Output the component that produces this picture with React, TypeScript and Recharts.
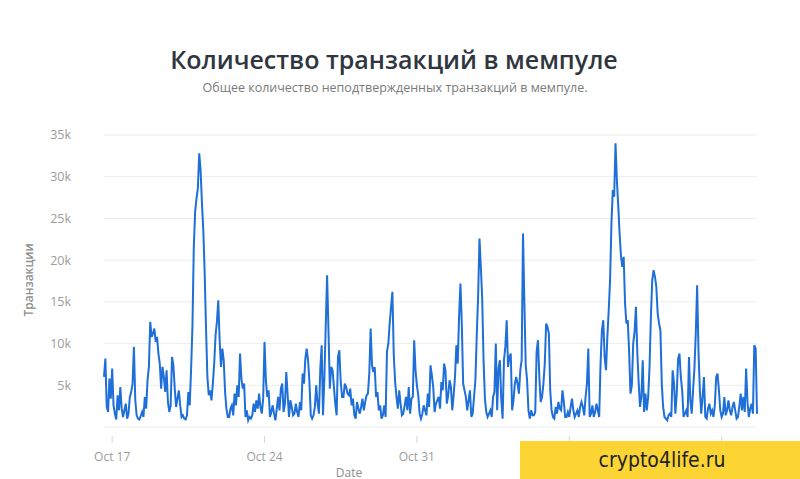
import { LineChart, Line, XAxis, YAxis, CartesianGrid } from "recharts";

// series starts Oct 16, 15:00 and is sampled every 1.5 hours
const START = Date.UTC(2019, 9, 16, 15);
const STEP_MS = 1.5 * 3600 * 1000;

const mempoolCounts = [
  6000, 8200, 2400, 1800, 5800, 3400, 7000, 2600, 1600, 900, 3800, 2000, 4800, 2200, 1200, 2000, 2800, 1000, 1600, 3600,
  4200, 5200, 9600, 3200, 1400, 1000, 900, 1300, 1800, 1200, 3600, 2200, 5600, 7200, 12600, 10800, 11200, 11800, 10200, 10800,
  8800, 7600, 4600, 7200, 6000, 4200, 6800, 3000, 1800, 2600, 8400, 7400, 4600, 2400, 3400, 4400, 2600, 1200, 1400, 1000,
  900, 1400, 4200, 2600, 6800, 12000, 21500, 25800, 27400, 28600, 32800, 30800, 26800, 23600, 18500, 11800, 6000, 3800, 4400, 3200,
  5200, 7600, 11000, 12600, 15200, 10400, 7200, 9400, 8000, 4200, 2200, 1200, 1200, 2200, 2600, 1400, 4000, 2600, 5000, 3600,
  8800, 5800, 4600, 5200, 1200, 2000, 800, 1200, 1000, 1400, 2800, 1800, 3200, 2200, 4000, 2400, 1600, 3400, 10200, 5600,
  3600, 4400, 1200, 1800, 2600, 1600, 800, 2200, 3600, 2000, 4600, 5200, 1800, 2800, 6600, 3800, 1200, 3200, 2400, 1400,
  1600, 2800, 1800, 1200, 3000, 2000, 6400, 5200, 8200, 9400, 8000, 5400, 1400, 1000, 1400, 2400, 5000, 2800, 1600, 7000,
  9800, 1400, 6000, 12200, 18200, 11600, 4600, 7200, 6800, 4800, 2800, 1400, 8400, 9200, 5400, 3600, 3600, 5200, 4800, 4000,
  3800, 4600, 2600, 3400, 1400, 1000, 3000, 2200, 1600, 2400, 3400, 2000, 3000, 3800, 4000, 6400, 11800, 7400, 6600, 7200,
  3600, 4200, 2000, 2600, 1000, 1400, 2600, 1200, 9000, 10000, 12400, 14400, 16200, 8600, 5400, 3600, 2200, 4400, 2800, 1400,
  1600, 2600, 3600, 2000, 4800, 1600, 3400, 3600, 10400, 6800, 5000, 3800, 1600, 1000, 1600, 2600, 2000, 1400, 4000, 2400,
  7400, 6200, 4800, 1800, 2800, 3200, 3600, 2200, 5400, 4400, 7600, 6800, 2800, 3800, 5600, 4800, 2000, 3800, 6000, 9800,
  7600, 13200, 17200, 12400, 5200, 4400, 3600, 2000, 3200, 4400, 1200, 1600, 3600, 5600, 11000, 15600, 22600, 19200, 15400, 8000,
  3400, 1800, 1200, 1600, 2000, 1200, 3600, 4200, 10000, 2000, 7000, 8000, 3400, 1000, 8000, 9600, 12800, 7200, 8400, 8800,
  2000, 3200, 5200, 6000, 5200, 4000, 6800, 8000, 23200, 15000, 7400, 5600, 2000, 1000, 2000, 1400, 1400, 1800, 9000, 10400,
  6000, 3000, 3600, 5200, 7600, 12400, 12000, 11200, 4400, 2000, 1200, 1000, 2400, 1600, 3000, 2200, 2000, 4400, 3000, 1200,
  1200, 1800, 1200, 2400, 3400, 2000, 1200, 1600, 2000, 1200, 2400, 3000, 2400, 1400, 3600, 5200, 9400, 1200, 1600, 2600,
  1200, 1800, 2800, 2000, 1200, 7600, 11600, 12800, 8400, 6800, 10800, 14000, 17600, 24400, 28400, 27600, 34000, 29600, 26500, 23200,
  20500, 19200, 20400, 14800, 12400, 12800, 9000, 4000, 5000, 10000, 11400, 14400, 9000, 5400, 2400, 3600, 8000, 1800, 4000, 2000,
  3600, 7200, 13200, 17600, 18800, 18000, 16800, 13600, 12400, 11600, 5200, 2400, 1200, 1000, 800, 1400, 1600, 1200, 6800, 5200,
  1600, 4000, 8200, 8800, 6000, 4400, 1200, 1600, 2000, 1200, 8400, 3200, 1600, 4400, 7000, 11200, 17000, 9000, 4400, 1600,
  3600, 6000, 1200, 1000, 2200, 2800, 1600, 2000, 1200, 2600, 6000, 6400, 4400, 2000, 1200, 1600, 3600, 1400, 2000, 3200,
  2000, 1400, 2400, 3000, 2000, 1000, 1200, 2400, 4000, 2000, 3600, 1800, 7000, 3000, 1200, 2200, 2800, 1600, 9800, 9400,
  1600,
];

const dateTicks = ["2019-10-17", "2019-10-24", "2019-10-31", "2019-11-07", "2019-11-14"];
// the last two date labels sit under the watermark box in the reference, only their tick marks show
const hiddenDateLabels = ["2019-11-07", "2019-11-14"];
const countTicks = [0, 5000, 10000, 15000, 20000, 25000, 30000, 35000];
const MONTHS = ["Jan", "Feb", "Mar", "Apr", "May", "Jun", "Jul", "Aug", "Sep", "Oct", "Nov", "Dec"];

const data = mempoolCounts.map((v, i) => ({ t: START + i * STEP_MS, count: v }));
const toTime = (d: string) => Date.parse(d + "T00:00:00Z");
const tickTimes = dateTicks.map(toTime);
const hiddenTimes = hiddenDateLabels.map(toTime);

const fmtDate = (t: number) => {
  const d = new Date(t);
  return `${MONTHS[d.getUTCMonth()]} ${d.getUTCDate()}`;
};

const DateTick = (props: any) => {
  const { x, y, payload } = props;
  const showLabel = !hiddenTimes.includes(payload.value);
  return (
    <g>
      <line x1={x} x2={x} y1={y + 9} y2={y + 16} stroke="#d6d6d6" />
      {showLabel && (
        <text x={x} y={y + 29} textAnchor="middle" dominantBaseline="central" fill="#9c9c9c" fontSize={12}>
          {fmtDate(payload.value)}
        </text>
      )}
    </g>
  );
};

export default function App() {
  const font = "'Open Sans', 'Noto Sans', sans-serif";
  return (
    <div style={{ position: "absolute", left: 0, top: 0, width: 800, height: 479, background: "#fff", fontFamily: font, overflow: "hidden" }}>
      <div style={{ position: "absolute", top: 42, left: 0, width: 788, textAlign: "center", fontSize: 25, fontWeight: 600, color: "#2f3640" }}>
        Количество транзакций в мемпуле
      </div>
      <div style={{ position: "absolute", top: 79, left: 0, width: 790, textAlign: "center", fontSize: 12.5, color: "#7a7a7a" }}>
        Общее количество неподтвержденных транзакций в мемпуле.
      </div>

      <LineChart
        width={800}
        height={479}
        data={data}
        margin={{ top: 135, right: 43, bottom: 22, left: 14 }}
        style={{ position: "absolute", left: 0, top: 0 }}
      >
        <CartesianGrid horizontal vertical={false} stroke="#ededed" />
        <XAxis
          dataKey="t"
          type="number"
          domain={["dataMin", "dataMax"]}
          ticks={tickTimes}
          axisLine={false}
          tickLine={false}
          tickSize={0}
          tickMargin={0}
          height={30}
          tick={<DateTick />}
          interval={0}
        />
        <YAxis
          domain={[0, 35000]}
          ticks={countTicks}
          width={90}
          axisLine={false}
          tickLine={false}
          tickSize={6}
          tickMargin={27}
          tickFormatter={(v: number) => (v === 0 ? "" : `${v / 1000}k`)}
          tick={{ fill: "#9c9c9c", fontSize: 12.5 }}
        />
        <Line
          type="linear"
          dataKey="count"
          stroke="#1f6fd9"
          strokeWidth={2}
          dot={false}
          isAnimationActive={false}
        />
      </LineChart>

      <div style={{ position: "absolute", left: 22, top: 280, transform: "translate(-50%, -50%) rotate(-90deg)", transformOrigin: "center", fontSize: 12, fontWeight: 600, color: "#8e8e8e", whiteSpace: "nowrap", marginLeft: 6 }}>
        Транзакции
      </div>
      <div style={{ position: "absolute", left: 349, top: 472, transform: "translate(-50%, -50%)", fontSize: 12, color: "#8e8e8e" }}>
        Date
      </div>

      <div style={{ position: "absolute", left: 520, top: 441, width: 280, height: 38, background: "#fcd535", display: "flex", alignItems: "center", justifyContent: "center" }}>
        <span style={{ fontFamily: "'DejaVu Sans Condensed', 'DejaVu Sans', sans-serif", fontStretch: "condensed", fontSize: 21, color: "#222", paddingLeft: 4 }}>
          crypto4life.ru
        </span>
      </div>
    </div>
  );
}
